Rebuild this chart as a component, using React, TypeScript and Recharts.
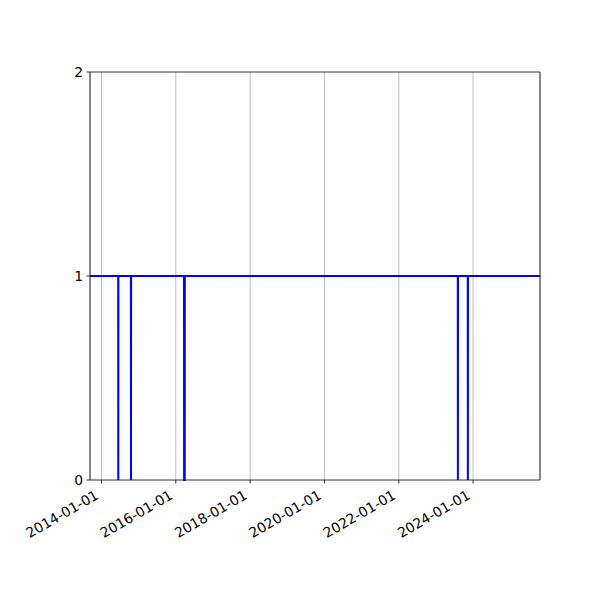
import React from 'react';
import { LineChart, Line, XAxis, YAxis, CartesianGrid, ReferenceLine } from 'recharts';

const dates = [
  '2013-09-10',
  '2014-06-14', '2014-06-15', '2014-06-16',
  '2014-10-17', '2014-10-18', '2014-10-19',
  '2016-03-22', '2016-03-23', '2016-03-29', '2016-03-30',
  '2023-08-04', '2023-08-05', '2023-08-06',
  '2023-11-10', '2023-11-11', '2023-11-12',
  '2025-10-20',
];
const values = [1, 1, 0, 1, 1, 0, 1, 1, 0, 0, 1, 1, 0, 1, 1, 0, 1, 1];
const xTickDates = ['2014-01-01', '2016-01-01', '2018-01-01', '2020-01-01', '2022-01-01', '2024-01-01'];
const xDomainDates = ['2013-09-10', '2025-10-20'];
const yTicks = [0, 1, 2];

const toTs = (s: string) => Date.parse(s + 'T00:00:00Z');
const data = dates.map((d, i) => ({ t: toTs(d), v: values[i] }));
const xTicks = xTickDates.map(toTs);
const xDomain = xDomainDates.map(toTs);

const FONT = 'DejaVu Sans';

const XTick = (props: any) => {
  const { x, y, payload } = props;
  const label = new Date(payload.value).toISOString().slice(0, 10);
  const ax = x - 2;
  const ay = y + 11;
  return (
    <text
      x={ax}
      y={ay}
      transform={`rotate(-30, ${ax}, ${ay})`}
      textAnchor="end"
      fill="#000"
      fontSize={13.9}
      fontFamily={FONT}
    >
      {label}
    </text>
  );
};

export default function App() {
  return (
    <LineChart width={600} height={600} data={data} margin={{ top: 64, right: 68, bottom: 68, left: 0 }}>
      <CartesianGrid horizontal={false} vertical={true} stroke="#b0b0b0" strokeWidth={0.8} />
      <XAxis
        dataKey="t"
        type="number"
        domain={xDomain}
        ticks={xTicks}
        allowDataOverflow
        height={60}
        tickSize={3.5}
        tickMargin={3.5}
        axisLine={{ stroke: '#000', strokeWidth: 0.8 }}
        tickLine={{ stroke: '#000', strokeWidth: 0.8 }}
        tick={<XTick />}
        interval={0}
      />
      <YAxis
        type="number"
        domain={[0, 2]}
        ticks={yTicks}
        width={82}
        tickSize={3.5}
        tickMargin={3.5}
        axisLine={{ stroke: '#000', strokeWidth: 0.8 }}
        tickLine={{ stroke: '#000', strokeWidth: 0.8 }}
        tick={{ fill: '#000', fontSize: 13.9, fontFamily: FONT }}
        interval={0}
      />
      <ReferenceLine y={2} stroke="#000" strokeWidth={0.8} />
      <ReferenceLine x={xDomain[1]} stroke="#000" strokeWidth={0.8} />
      <Line
        type="linear"
        dataKey="v"
        stroke="#0000ff"
        strokeWidth={2}
        dot={false}
        activeDot={false}
        isAnimationActive={false}
      />
    </LineChart>
  );
}
